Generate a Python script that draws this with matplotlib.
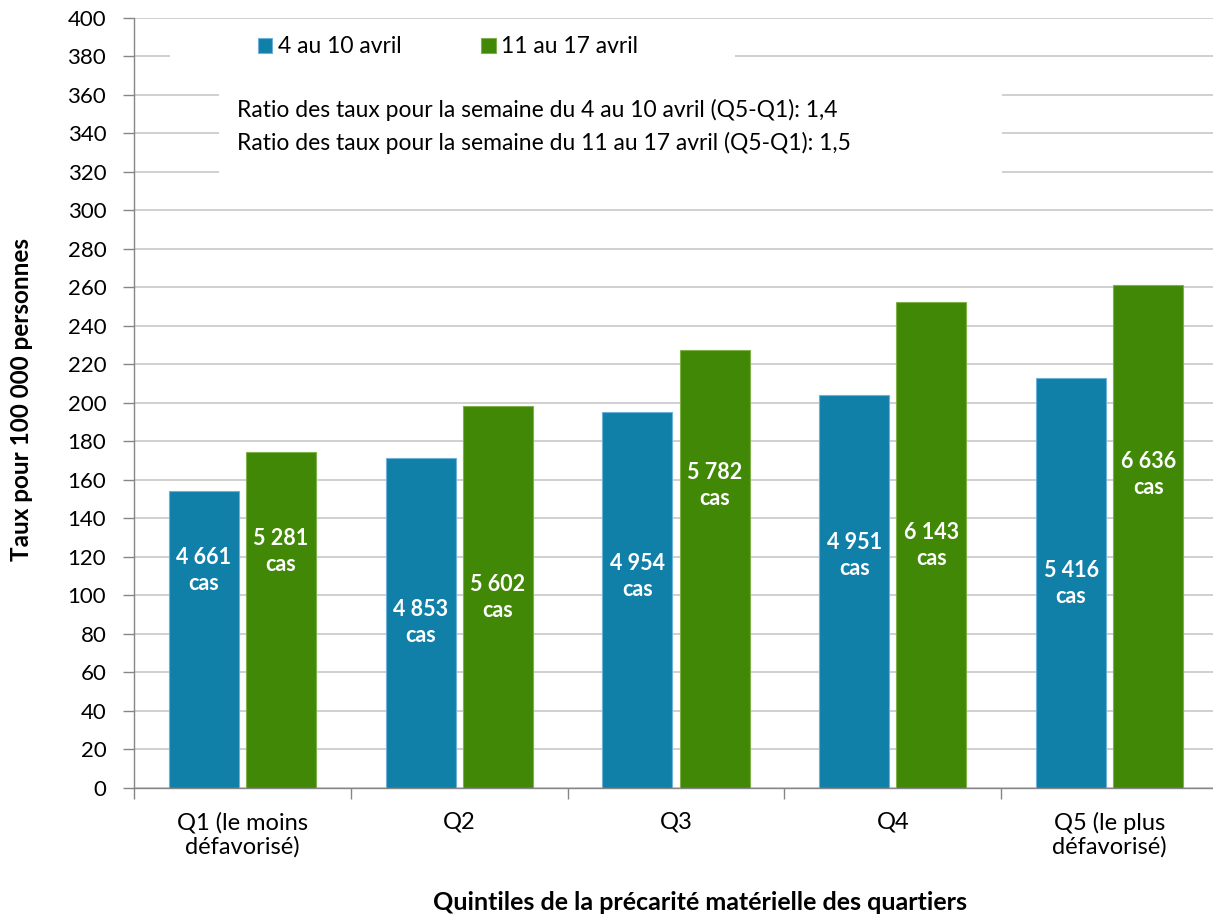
import numpy as np
import matplotlib
matplotlib.use("Agg")
import matplotlib.pyplot as plt
from matplotlib.patches import Rectangle

plt.rcParams['font.family'] = ['Lato', 'DejaVu Sans']

quintiles = ["Q1 (le moins\ndéfavorisé)", "Q2", "Q3", "Q4", "Q5 (le plus\ndéfavorisé)"]
series_names = ["4 au 10 avril", "11 au 17 avril"]
taux_sem1 = [154.1, 171.4, 195.1, 204.1, 213.2]
taux_sem2 = [174.5, 198.3, 227.3, 252.6, 261.4]
cas_sem1 = [4661, 4853, 4954, 4951, 5416]
cas_sem2 = [5281, 5602, 5782, 6143, 6636]
# hauteur (en unites de taux) ou sont places les libelles "cas"
label_y_sem1 = [113, 86, 110, 121, 106]
label_y_sem2 = [123, 99, 157, 126, 163]
ratio_lines = [
    "Ratio des taux pour la semaine du 4 au 10 avril (Q5-Q1): 1,4",
    "Ratio des taux pour la semaine du 11 au 17 avril (Q5-Q1): 1,5",
]

BLUE = '#1180A9'
GREEN = '#408806'


def fmt_cas(n):
    return f"{n:,}".replace(",", " ") + "\ncas"


fig = plt.figure(figsize=(12.13, 9.17), dpi=100)
ax = fig.add_axes([0.1105, 0.1407, 0.8937, 0.8397])

x = np.arange(len(quintiles))
width = 0.323
offset = 0.178

bars1 = ax.bar(x - offset, taux_sem1, width, color=BLUE, edgecolor='#6FB0D8',
               linewidth=0.8, label=series_names[0], zorder=2)
bars2 = ax.bar(x + offset, taux_sem2, width, color=GREEN, edgecolor='#7FB04A',
               linewidth=0.8, label=series_names[1], zorder=2)

for i in range(len(x)):
    ax.text(x[i] - offset, label_y_sem1[i], fmt_cas(cas_sem1[i]), color='white',
            fontsize=15.5, fontweight='bold', ha='center', va='center',
            linespacing=1.3, zorder=3)
    ax.text(x[i] + offset, label_y_sem2[i], fmt_cas(cas_sem2[i]), color='white',
            fontsize=15.5, fontweight='bold', ha='center', va='center',
            linespacing=1.3, zorder=3)

ax.set_xlim(-0.5, len(quintiles) - 0.5)
ax.set_ylim(0, 400)
ax.set_yticks(np.arange(0, 401, 20))
ax.yaxis.grid(True, color='#C4C4C4', linewidth=1.1)
ax.set_axisbelow(True)

# ticks aux limites de categories, libelles au centre
ax.set_xticks(np.arange(-0.5, len(quintiles), 1.0))
ax.set_xticklabels([])
ax.set_xticks(x, minor=True)
ax.set_xticklabels(quintiles, minor=True, fontsize=17, linespacing=1.15)
ax.tick_params(axis='x', which='minor', length=0, pad=17)
ax.tick_params(axis='x', which='major', length=8, color='#868686', width=1)
ax.tick_params(axis='y', length=8, color='#868686', width=1, labelsize=16, pad=12)

for side in ['top', 'right']:
    ax.spines[side].set_visible(False)
for side in ['left', 'bottom']:
    ax.spines[side].set_color('#868686')
    ax.spines[side].set_linewidth(1)

# fonds blancs derriere la legende et la note
ax.add_patch(Rectangle((0.033, 0.926), 0.521, 0.052, transform=ax.transAxes,
                       facecolor='white', edgecolor='none', zorder=1.5))
ax.add_patch(Rectangle((0.078, 0.783), 0.723, 0.139, transform=ax.transAxes,
                       facecolor='white', edgecolor='none', zorder=1.5))

ax.legend(loc='upper left', bbox_to_anchor=(0.114, 0.976), ncol=2, frameon=False,
          fontsize=16.5, handlelength=0.62, handleheight=0.62, handletextpad=0.25,
          columnspacing=3.5, borderpad=0, borderaxespad=0)

ax.text(0.095, 0.880, ratio_lines[0], transform=ax.transAxes, fontsize=16.5,
        va='center', ha='left', zorder=3)
ax.text(0.095, 0.838, ratio_lines[1], transform=ax.transAxes, fontsize=16.5,
        va='center', ha='left', zorder=3)

fig.text(22 / 1213, 1 - 400 / 917, "Taux pour 100 000 personnes", rotation=90,
         fontsize=17.5, fontweight='bold', ha='center', va='center')
fig.text(700 / 1213, 1 - 902 / 917, "Quintiles de la précarité matérielle des quartiers",
         fontsize=18, fontweight='bold', ha='center', va='center')

fig.savefig("out.png", dpi=100)
